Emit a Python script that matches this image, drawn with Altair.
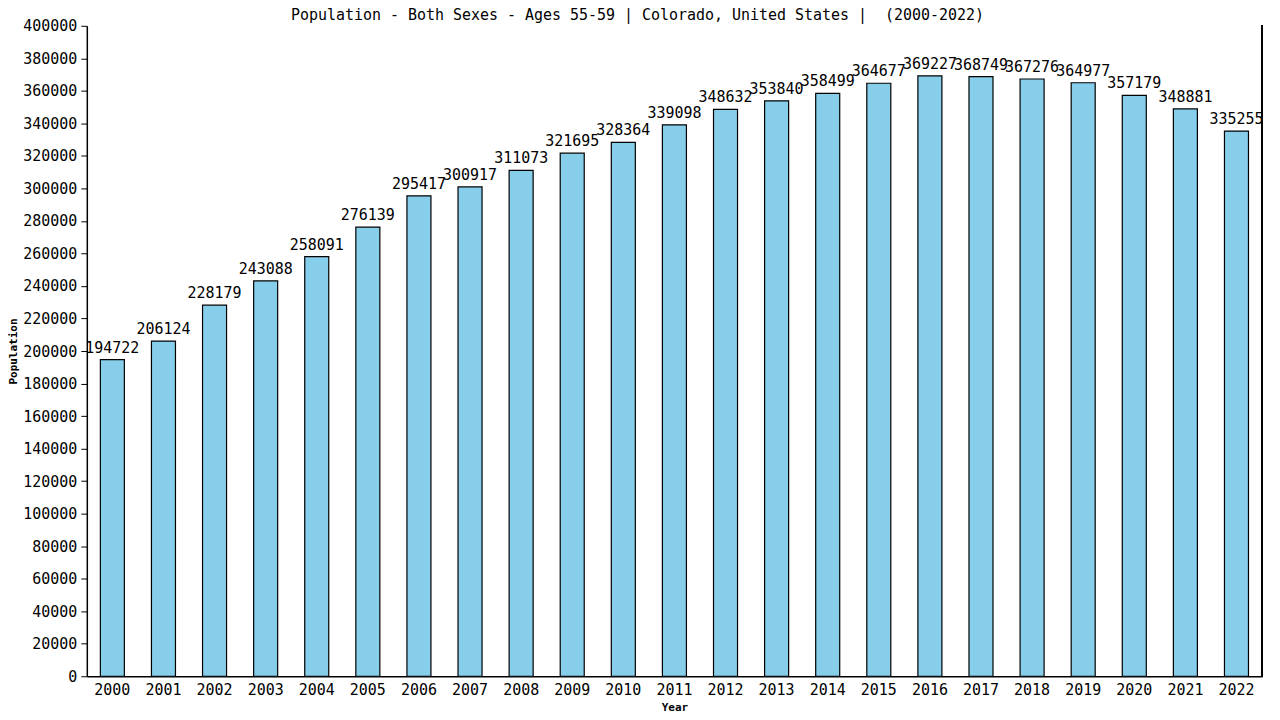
import altair as alt
import pandas as pd

years = [str(y) for y in range(2000, 2023)]
population = [194722, 206124, 228179, 243088, 258091, 276139, 295417, 300917,
              311073, 321695, 328364, 339098, 348632, 353840, 358499, 364677,
              369227, 368749, 367276, 364977, 357179, 348881, 335255]

df = pd.DataFrame({"Year": years, "Population": population})

W, H = 1178, 652
FONT = "DejaVu Sans Mono"

x = alt.X("Year:N", title="Year",
          scale=alt.Scale(paddingInner=0.53, paddingOuter=0.265),
          axis=alt.Axis(labelAngle=0, ticks=False, labelPadding=6,
                        labelFont=FONT, labelFontSize=15, labelColor="black",
                        titleFont=FONT, titleFontSize=11, titleFontWeight="bold",
                        titlePadding=4, domainColor="black", domainWidth=1.5,
                        grid=False))
y = alt.Y("Population:Q", title="Population",
          scale=alt.Scale(domain=[0, 400000], nice=False),
          axis=alt.Axis(values=list(range(0, 400001, 20000)), format="d",
                        tickSize=6, tickColor="black", labelPadding=4,
                        labelFont=FONT, labelFontSize=15, labelColor="black",
                        titleFont=FONT, titleFontSize=11, titleFontWeight="bold",
                        titlePadding=4, domainColor="black", domainWidth=1.5,
                        grid=False))

base = alt.Chart(df)
bars = base.mark_bar(color="#87CEEB", stroke="black", strokeWidth=1.2).encode(x=x, y=y)
labels = base.mark_text(baseline="bottom", dy=-4, font=FONT, fontSize=15,
                        color="black").encode(x=x, y=y, text=alt.Text("Population:Q", format="d"))
border = base.mark_rule(color="black", strokeWidth=1.5).encode(
    x=alt.value(W), y=alt.value(0), y2=alt.value(H))

chart = alt.layer(bars, labels, border).properties(
    width=W, height=H,
    title=alt.TitleParams(
        "Population - Both Sexes - Ages 55-59 | Colorado, United States |\u00a0 (2000-2022)",
        font=FONT, fontSize=15, fontWeight="normal", color="black",
        anchor="middle", dx=-37, dy=10, offset=6),
    autosize=alt.AutoSizeParams(type="none"),
    padding={"left": 79, "top": 17, "right": 10, "bottom": 40},
).configure_view(stroke=None)

chart.save("out.html", embed_options={"renderer": "svg", "actions": False})
